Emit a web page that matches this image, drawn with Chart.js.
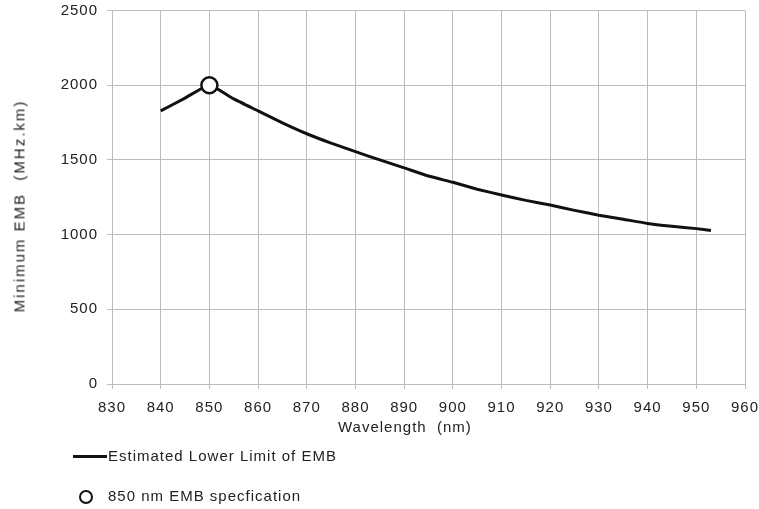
<!DOCTYPE html>
<html>
<head>
<meta charset="utf-8">
<script src="https://cdn.jsdelivr.net/npm/chart.js@4"></script>
<style>
  body { margin: 0; background: #fff; font-family: "Liberation Sans", Arial, sans-serif; }
  #wrap { position: relative; width: 759px; height: 509px; }
  #chart { position: absolute; left: 0; top: 0; }
  .txt { position: absolute; color: #222; font-size: 15px; letter-spacing: 1px; white-space: nowrap; }
  #xTitle { left: 338px; top: 418px; }
  #yTitle { left: 19px; top: 206px; letter-spacing: 2px; transform: translate(-50%, -50%) rotate(-90deg); }
  .leg { position: absolute; left: 0; font-size: 15px; letter-spacing: 1px; color: #222; white-space: nowrap; }
  .legLine { position: absolute; left: 73px; width: 34px; height: 0; border-top: 3px solid #111; }
  .legCircle { position: absolute; width: 10px; height: 10px; border: 2.5px solid #111; border-radius: 50%; background: #fff; }
</style>
</head>
<body>
<div id="wrap">
  <canvas id="chart" width="759" height="509"></canvas>
  <div class="txt" id="xTitle">Wavelength&nbsp;&nbsp;(nm)</div>
  <div class="txt" id="yTitle">Minimum EMB&nbsp;&nbsp;(MHz.km)</div>
  <div class="legLine" style="top:455px"></div>
  <div class="leg" style="left:108px; top:447px">Estimated Lower Limit of EMB</div>
  <div class="legCircle" style="left:79px; top:490px"></div>
  <div class="leg" style="left:108px; top:487px">850 nm EMB specfication</div>
</div>
<script>
// wavelength (nm) and estimated lower limit of EMB (MHz.km)
const wavelengths = [840, 845, 850, 855, 860, 865, 870, 875, 880, 885, 890, 895, 900, 905, 910, 915, 920, 925, 930, 935, 940, 945, 950, 953];
const embValues   = [1828, 1914, 2000, 1908, 1828, 1748, 1675, 1612, 1555, 1500, 1447, 1392, 1350, 1304, 1265, 1229, 1198, 1162, 1130, 1103, 1075, 1056, 1040, 1028];

// 850 nm specification point
const specWavelength = [850];
const specEmb = [2000];

const xMin = 830, xMax = 960, xStep = 10;
const yMin = 0, yMax = 2500, yStep = 500;

const lineData = wavelengths.map((w, i) => ({ x: w, y: embValues[i] }));
const specData = specWavelength.map((w, i) => ({ x: w, y: specEmb[i] }));

const spacing = {
  id: 'spacing',
  beforeUpdate(c) { c.ctx.letterSpacing = '1px'; },
  beforeDraw(c) { c.ctx.letterSpacing = '1px'; }
};

const gridColor = '#bdbdbd';
const tickFont = { family: '"Liberation Sans", Arial, sans-serif', size: 15 };

new Chart(document.getElementById('chart').getContext('2d'), {
  type: 'scatter',
  data: {
    datasets: [
      {
        label: 'Estimated Lower Limit of EMB',
        data: lineData,
        showLine: true,
        borderColor: '#111',
        borderWidth: 3,
        pointRadius: 0,
        tension: 0.15,
        order: 2
      },
      {
        label: '850 nm EMB specfication',
        data: specData,
        pointRadius: 8,
        pointBorderWidth: 2.5,
        pointBackgroundColor: '#fff',
        pointBorderColor: '#111',
        order: 1
      }
    ]
  },
  options: {
    responsive: false,
    animation: false,
    layout: { padding: { left: 0, right: 14, top: 8, bottom: 0 } },
    plugins: { legend: { display: false }, tooltip: { enabled: false } },
    scales: {
      x: {
        type: 'linear',
        min: xMin, max: xMax,
        ticks: { stepSize: xStep, color: '#222', font: tickFont, padding: 10, maxRotation: 0, callback: v => String(v) },
        grid: { color: gridColor, lineWidth: 1, tickLength: 5 },
        border: { color: gridColor },
        afterFit(s) { s.height = 125; s.paddingLeft = 0; s.paddingRight = 0; }
      },
      y: {
        type: 'linear',
        min: yMin, max: yMax,
        ticks: { stepSize: yStep, color: '#222', font: tickFont, padding: 9, callback: v => String(v) },
        grid: { color: gridColor, lineWidth: 1, tickLength: 5 },
        border: { color: gridColor },
        afterFit(s) { s.width = 112; s.paddingTop = 0; s.paddingBottom = 0; }
      }
    }
  },
  plugins: [spacing]
});
</script>
</body>
</html>
